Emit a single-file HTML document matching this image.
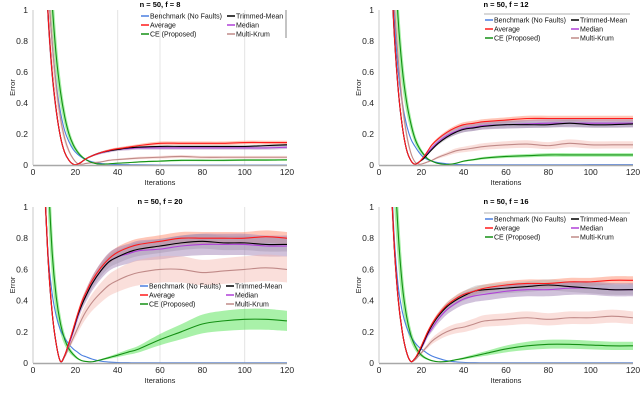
<!DOCTYPE html>
<html><head><meta charset="utf-8"><style>
body{margin:0;background:#fff;width:640px;height:400px;overflow:hidden}
svg text{font-family:"Liberation Sans",sans-serif}
</style></head><body>
<svg id="c" width="640" height="400" xmlns="http://www.w3.org/2000/svg"></svg>
<script>
const iters=[5,7,9,11,13,15,17,19,21,23,25,28,32,36,40,45,50,60,70,80,90,100,110,120];
const xTicks=[0,20,40,60,80,100,120];
const yTicks=[0,0.2,0.4,0.6,0.8,1];
const yTickLabels=["0","0.2","0.4","0.6","0.8","1"];
const seriesNames=["Benchmark (No Faults)","Average","CE (Proposed)","Trimmed-Mean","Median","Multi-Krum"];
const titles=["n = 50, f = 8","n = 50, f = 12","n = 50, f = 20","n = 50, f = 16"];
// panel A f=8
const a_bench=[1.8,1.2,0.8,0.52,0.34,0.22,0.15,0.1,0.07,0.05,0.035,0.02,0.01,0.005,0.003,0.002,0.001,0,0,0,0,0,0,0];
const a_avg=[1.6,1.0,0.6,0.35,0.18,0.08,0.03,0.005,0.005,0.02,0.04,0.06,0.08,0.095,0.105,0.115,0.125,0.14,0.14,0.14,0.14,0.145,0.145,0.145];
const a_ce=[2.2,1.5,1.05,0.7,0.47,0.31,0.2,0.13,0.085,0.055,0.035,0.015,0.005,0.008,0.012,0.015,0.02,0.025,0.03,0.03,0.03,0.032,0.032,0.033];
const a_trim=[1.6,1.0,0.6,0.35,0.18,0.08,0.03,0.005,0.005,0.02,0.04,0.06,0.08,0.092,0.1,0.11,0.115,0.12,0.12,0.12,0.12,0.12,0.125,0.13];
const a_med=[1.6,1.0,0.6,0.35,0.18,0.08,0.03,0.005,0.005,0.02,0.04,0.06,0.078,0.09,0.1,0.105,0.11,0.11,0.11,0.11,0.11,0.11,0.11,0.115];
const a_krum=[1.8,1.2,0.8,0.5,0.3,0.17,0.09,0.04,0.01,0.005,0.01,0.015,0.02,0.03,0.035,0.04,0.045,0.05,0.055,0.05,0.05,0.05,0.05,0.05];
// panel B f=12
const b_bench=[1.6,1.0,0.62,0.4,0.26,0.17,0.12,0.08,0.05,0.035,0.025,0.015,0.008,0.004,0.002,0.001,0.001,0.001,0.001,0.001,0.001,0.002,0.002,0.002];
const b_avg=[1.5,0.9,0.5,0.25,0.1,0.03,0.005,0.02,0.05,0.09,0.13,0.17,0.21,0.24,0.26,0.27,0.28,0.29,0.3,0.3,0.3,0.3,0.3,0.3];
const b_ce=[2.3,1.5,0.95,0.62,0.41,0.27,0.17,0.11,0.07,0.04,0.025,0.01,0.003,0.01,0.025,0.035,0.045,0.055,0.06,0.065,0.065,0.065,0.065,0.065];
const b_trim=[1.5,0.9,0.5,0.25,0.1,0.03,0.005,0.02,0.04,0.07,0.1,0.14,0.18,0.21,0.23,0.24,0.25,0.26,0.26,0.26,0.27,0.26,0.26,0.265];
const b_med=[1.5,0.9,0.5,0.25,0.1,0.03,0.005,0.02,0.05,0.08,0.11,0.15,0.19,0.215,0.235,0.245,0.255,0.26,0.265,0.27,0.27,0.27,0.27,0.27];
const b_krum=[1.7,1.1,0.7,0.4,0.2,0.08,0.02,0.005,0.01,0.02,0.03,0.05,0.07,0.09,0.1,0.11,0.12,0.13,0.135,0.125,0.14,0.13,0.13,0.13];
// panel C f=20
const c_bench=[1.3,0.72,0.45,0.3,0.21,0.16,0.12,0.09,0.07,0.05,0.04,0.025,0.012,0.006,0.003,0.002,0.001,0.001,0.001,0.001,0.001,0.001,0.001,0.001];
const c_avg=[1.3,0.7,0.33,0.12,0.01,0.05,0.13,0.22,0.31,0.39,0.45,0.53,0.61,0.67,0.71,0.74,0.76,0.78,0.8,0.8,0.8,0.8,0.81,0.8];
const c_ce=[2.4,1.3,0.72,0.42,0.25,0.15,0.09,0.055,0.03,0.015,0.01,0.008,0.02,0.035,0.05,0.07,0.09,0.15,0.2,0.25,0.27,0.28,0.28,0.27];
const c_trim=[1.3,0.7,0.33,0.12,0.01,0.05,0.13,0.21,0.3,0.37,0.43,0.51,0.59,0.65,0.68,0.71,0.73,0.75,0.77,0.78,0.77,0.77,0.76,0.76];
const c_med=[1.3,0.7,0.33,0.12,0.01,0.05,0.12,0.2,0.29,0.37,0.43,0.51,0.59,0.65,0.68,0.7,0.72,0.73,0.75,0.76,0.76,0.76,0.75,0.75];
const c_krum=[1.3,0.7,0.33,0.12,0.01,0.04,0.1,0.16,0.22,0.28,0.33,0.39,0.45,0.5,0.53,0.56,0.58,0.6,0.6,0.58,0.59,0.6,0.61,0.6];
// panel D f=16
const d_bench=[1.5,0.85,0.5,0.33,0.23,0.17,0.13,0.1,0.08,0.06,0.045,0.03,0.015,0.008,0.004,0.002,0.001,0.001,0.001,0.001,0.001,0.001,0.001,0.001];
const d_avg=[1.4,0.8,0.42,0.2,0.07,0.01,0.03,0.08,0.14,0.2,0.25,0.31,0.37,0.41,0.44,0.46,0.48,0.5,0.51,0.51,0.52,0.52,0.53,0.53];
const d_ce=[2.3,1.4,0.85,0.5,0.3,0.18,0.11,0.065,0.04,0.025,0.015,0.008,0.01,0.02,0.03,0.045,0.06,0.09,0.11,0.12,0.12,0.115,0.11,0.11];
const d_trim=[1.4,0.8,0.42,0.2,0.07,0.01,0.03,0.07,0.13,0.19,0.24,0.3,0.36,0.4,0.43,0.46,0.47,0.48,0.49,0.5,0.49,0.48,0.47,0.47];
const d_med=[1.4,0.8,0.42,0.2,0.07,0.01,0.03,0.07,0.12,0.18,0.22,0.28,0.34,0.38,0.41,0.43,0.44,0.46,0.47,0.47,0.48,0.48,0.47,0.47];
const d_krum=[1.4,0.8,0.42,0.2,0.07,0.01,0.02,0.05,0.08,0.11,0.14,0.17,0.2,0.22,0.23,0.25,0.27,0.28,0.29,0.28,0.29,0.29,0.3,0.29];

const panelSeries=[[a_bench,a_avg,a_ce,a_trim,a_med,a_krum],[b_bench,b_avg,b_ce,b_trim,b_med,b_krum],[c_bench,c_avg,c_ce,c_trim,c_med,c_krum],[d_bench,d_avg,d_ce,d_trim,d_med,d_krum]];
const colors=["#4a7fe0","#ff1a1a","#149014","#000000","#b040d8","#c08a88"];
const bandColors=["#8ab0f0","#ff8060","#40e040","#b0b0b0","#9a78b0","#f4b8b0"];
const bandRel=[[0,0.08,0.18,0.06,0.1,0.18],[0,0.06,0.18,0.08,0.1,0.18],[0,0.05,0.24,0.06,0.09,0.14],[0,0.05,0.24,0.07,0.09,0.14]];
const panels=[{x0:33,x1:287,yt:10,yb:165,lx:141,ly:16,grid:true,leg:"bar"},{x0:379,x1:633,yt:10,yb:165,lx:485,ly:20,grid:false,leg:"top"},{x0:33,x1:287,yt:207,yb:363,lx:140,ly:286,grid:true,leg:"none"},{x0:379,x1:633,yt:207,yb:363,lx:485,ly:219,grid:false,leg:"top"}];
const NS="http://www.w3.org/2000/svg";
const svg=document.getElementById('c');
function mk(t,a,p){const e=document.createElementNS(NS,t);for(const k in a)e.setAttribute(k,a[k]);(p||svg).appendChild(e);return e;}
function segs(pts){let d="";for(let i=0;i<pts.length-1;i++){const p0=pts[Math.max(0,i-1)],p1=pts[i],p2=pts[i+1],p3=pts[Math.min(pts.length-1,i+2)];const c1=[p1[0]+(p2[0]-p0[0])/6,p1[1]+(p2[1]-p0[1])/6],c2=[p2[0]-(p3[0]-p1[0])/6,p2[1]-(p3[1]-p1[1])/6];d+="C"+c1[0].toFixed(2)+","+c1[1].toFixed(2)+" "+c2[0].toFixed(2)+","+c2[1].toFixed(2)+" "+p2[0].toFixed(2)+","+p2[1].toFixed(2);}return d;}
function smooth(pts){return "M"+pts[0][0].toFixed(2)+","+pts[0][1].toFixed(2)+segs(pts);}
panels.forEach((P,pi)=>{
  const g=mk('g',{});
  
  
  const X=v=>P.x0+(v/120)*(P.x1-P.x0), Y=v=>P.yb-v*(P.yb-P.yt);
  const cp=mk('clipPath',{id:'cp'+pi},g);mk('rect',{x:P.x0,y:P.yt,width:P.x1-P.x0,height:P.yb-P.yt},cp);
  if(P.grid){[40,60,100].forEach(t=>{const l=mk('line',{x1:X(t),x2:X(t),y1:P.yt,y2:P.yb,stroke:'#e4e4e4','stroke-width':1},g);});}
  const plot=mk('g',{'clip-path':'url(#cp'+pi+')'},g);
  const S=panelSeries[pi];
  S.forEach((vals,si)=>{const r=bandRel[pi][si];if(!r)return;
    const up=iters.map((t,i)=>[X(t),Y(vals[i]*(1+r))]),lo=iters.map((t,i)=>[X(t),Y(vals[i]*(1-r))]).reverse();
    const d=smooth(up)+" L"+lo[0][0].toFixed(2)+","+lo[0][1].toFixed(2)+segs(lo)+"Z";
    const b=mk('path',{d:d,fill:bandColors[si],opacity:0.45,stroke:'none'},plot);
    
    });
  [0,5,2,4,3,1].forEach(si=>{const vals=S[si];
    const l=mk('path',{d:smooth(iters.map((t,i)=>[X(t),Y(vals[i])])),fill:'none',stroke:colors[si],'stroke-width':1.1},plot);
    
    });
  const ax=mk('line',{x1:P.x0,x2:P.x1,y1:P.yb+0.5,y2:P.yb+0.5,stroke:'#a8a8a8','stroke-width':1.5},g);
  
  const ay=mk('line',{x1:P.x0,x2:P.x0,y1:P.yt,y2:P.yb,stroke:'#c8c8c8','stroke-width':1},g);
  
  xTicks.forEach(t=>{const tx=mk('text',{x:X(t),y:P.yb+10,'font-size':8.5,'text-anchor':'middle',fill:'#222'},g);tx.textContent=t;});
  yTicks.forEach((t,i)=>{const tx=mk('text',{x:P.x0-5,y:Y(t)+3,'font-size':8.5,'text-anchor':'end',fill:'#222'},g);tx.textContent=yTickLabels[i];});
  const xl=mk('text',{x:(P.x0+P.x1)/2,y:P.yb+20,'font-size':7.5,'text-anchor':'middle',fill:'#222'},g);xl.textContent='Iterations';
  const ex=P.x0-18,ey=(P.yt+P.yb)/2;
  const yl=mk('text',{x:ex,y:ey,'font-size':7.5,'text-anchor':'middle',fill:'#222',transform:'rotate(-90 '+ex+' '+ey+')'},g);yl.textContent='Error';
  const tt=mk('text',{x:(P.x0+P.x1)/2,y:P.yt-3,'font-size':7.5,'font-weight':'bold','text-anchor':'middle',fill:'#000'},g);tt.textContent=titles[pi];
  const lg=mk('g',{},g);
  if(P.leg==='top'){mk('line',{x1:P.lx-1,x2:P.x1-3,y1:P.ly-6,y2:P.ly-6,stroke:'#b0b0b0','stroke-width':1},lg);}
  if(P.leg==='bar'){mk('line',{x1:P.x1-1,x2:P.x1-1,y1:P.yt,y2:P.ly+22,stroke:'#b0b0b0','stroke-width':1.5},lg);}
  [0,1,2,3,4,5].forEach(si=>{const col=si<3?0:1,row=si%3;const lx=P.lx+col*86,ly=P.ly+row*9;
    const e=mk('g',{},lg);
    mk('line',{x1:lx,x2:lx+8,y1:ly,y2:ly,stroke:colors[si],'stroke-width':1.5},e);
    const t=mk('text',{x:lx+9,y:ly+2.5,'font-size':7,fill:'#111'},e);t.textContent=seriesNames[si];});
});
</script>
</body></html>
